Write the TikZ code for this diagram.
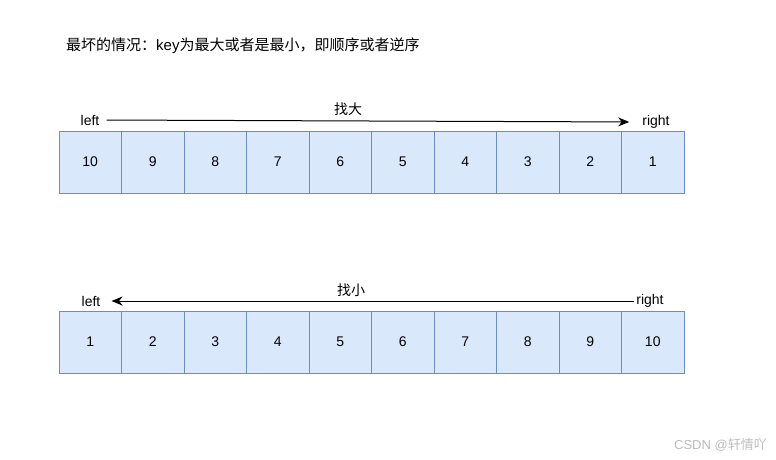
\documentclass[tikz,border=0pt]{standalone}
\usepackage{fontspec}
\setmainfont{Liberation Sans}
\newfontfamily\cjk{Noto Sans CJK SC}
\usetikzlibrary{arrows.meta, positioning}
\definecolor{cellfill}{HTML}{DAE8FC}
\definecolor{cellline}{HTML}{6C8EBF}
\definecolor{markgray}{HTML}{BBBBBB}
\tikzset{>={Stealth[length=11pt,width=9pt,inset=3.5pt]}}
\tikzset{cell/.style={draw=cellline, fill=cellfill, line width=1pt, minimum width=62.5pt, minimum height=62pt, inner sep=0pt, font=\fontsize{14}{16}\selectfont},
  lbl/.style={inner sep=2pt, font=\fontsize{14}{16}\selectfont}}

\begin{document}
\begin{tikzpicture}[x=1pt, y=-1pt]

	\useasboundingbox (0,0) rectangle (776,459);

	\node [lbl, anchor=west, font=\fontsize{15}{17}\selectfont] (title) at (64,46) {{\cjk 最坏的情况：}key{\cjk 为最大或者是最小，即顺序或者逆序}};

	% top row: descending
	\foreach \v [count=\i] in {10,9,8,7,6,5,4,3,2,1}
		\node [cell] (t\i) at ({59+62.5*(\i-0.5)},162) {\v};

	\node [lbl] (tleft) at (90,120) {left};
	\node [lbl] (tright) at (656,122) {right};
	\draw [->, line width=1pt, shorten <=5pt, shorten >=11pt] (tleft.east) -- (tright.west);
	\node [lbl, font=\cjk\fontsize{14}{16}\selectfont] (big) at (348,109) {找大};

	% bottom row: ascending
	\foreach \v [count=\i] in {1,2,3,4,5,6,7,8,9,10}
		\node [cell] (b\i) at ({59+62.5*(\i-0.5)},342) {\v};

	\node [lbl] (bleft) at (91,301) {left};
	\node [lbl] (bright) at (650,301) {right};
	\draw [->, line width=1pt, shorten >=9pt] (bright.west) -- (bleft.east);
	\node [lbl, font=\cjk\fontsize{14}{16}\selectfont] (small) at (351,290) {找小};

	\node [lbl, anchor=east, text=markgray, font=\fontsize{13}{15}\selectfont] (mark) at (769,445) {CSDN @{\cjk 轩情吖}};

\end{tikzpicture}
\end{document}
